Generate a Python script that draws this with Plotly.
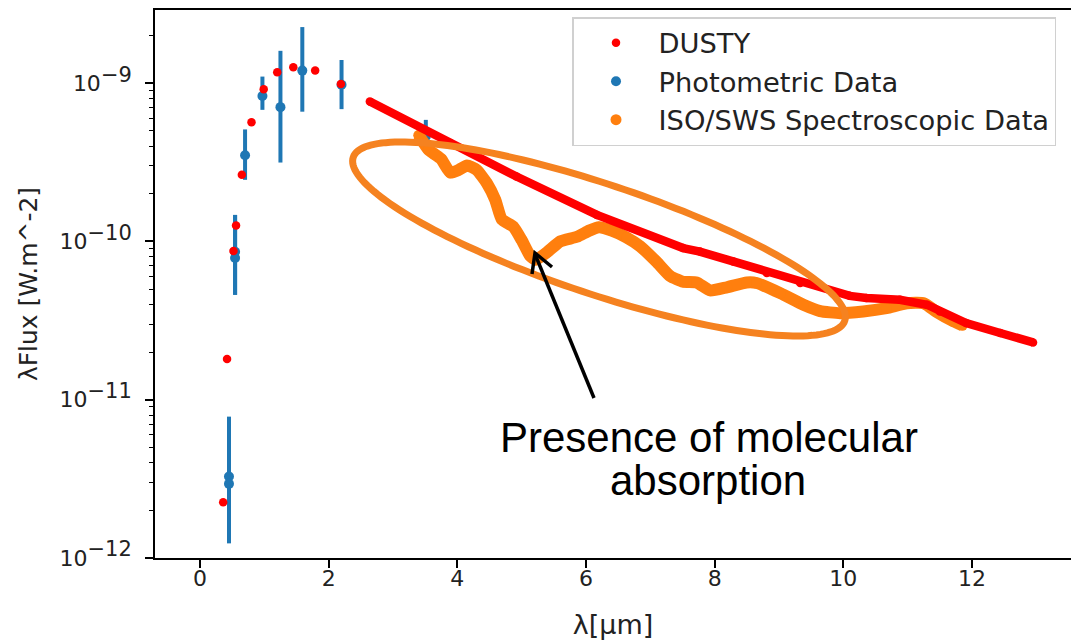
import numpy as np
import plotly.graph_objects as go

# ---------------- data ----------------
# DUSTY model: sparse optical/near-IR points
dusty_x = [0.36, 0.42, 0.52, 0.56, 0.65, 0.80, 0.99, 1.20, 1.45, 1.79, 2.19]
dusty_y = [2.25e-12, 1.81e-11, 8.7e-11, 1.26e-10, 2.64e-10, 5.67e-10, 9.16e-10,
           1.17e-9, 1.26e-9, 1.20e-9, 9.86e-10]
# DUSTY model: dense mid-IR part
dusty_ir_x = [2.64, 3.89, 4.92, 6.17, 7.51, 7.77, 8.29, 8.81, 9.33, 9.84, 10.10,
              10.36, 10.88, 11.30, 11.50, 11.91, 12.44, 12.95]
dusty_ir_y = [7.66e-10, 4.18e-10, 2.57e-10, 1.47e-10, 9.08e-11, 8.63e-11, 7.46e-11,
              6.31e-11, 5.46e-11, 4.83e-11, 4.53e-11, 4.39e-11, 4.28e-11, 3.98e-11,
              3.61e-11, 3.05e-11, 2.64e-11, 2.30e-11]

# Photometric data with asymmetric errors
phot_x = [0.45, 0.45, 0.545, 0.545, 0.70, 0.97, 1.25, 1.59, 2.20, 3.51]
phot_y = [3.27e-12, 2.94e-12, 8.6e-11, 7.85e-11, 3.5e-10, 8.3e-10, 7.05e-10,
          1.20e-9, 9.76e-10, 4.6e-10]
phot_err_plus = [4.53e-12, 4.86e-12, 6.1e-11, 6.85e-11, 1.6e-10, 2.7e-10, 8.95e-10,
                 1.06e-9, 4.24e-10, 1.26e-10]
phot_err_minus = [2.03e-12, 1.70e-12, 4.0e-11, 3.25e-11, 1.05e-10, 1.52e-10, 3.9e-10,
                  5.4e-10, 2.91e-10, 0.8e-10]

# ISO/SWS spectrum
iso_x = [3.40, 3.55, 3.65, 3.75, 3.89, 4.02, 4.15, 4.30, 4.46, 4.59, 4.69, 4.87,
         5.00, 5.13, 5.22, 5.39, 5.60, 5.86, 6.05, 6.20, 6.40, 6.63, 6.84, 7.10,
         7.31, 7.51, 7.72, 7.93, 8.19, 8.50, 8.65, 9.02, 9.38, 9.64, 9.95, 10.31,
         10.67, 10.99, 11.25, 11.45, 11.71, 11.85]
iso_y = [4.68e-10, 3.80e-10, 3.55e-10, 3.31e-10, 2.72e-10, 2.83e-10, 3.02e-10,
         2.83e-10, 2.33e-10, 1.83e-10, 1.38e-10, 1.24e-10, 1.02e-10, 8.13e-11,
         7.67e-11, 8.51e-11, 1.00e-10, 1.07e-10, 1.17e-10, 1.23e-10, 1.17e-10,
         1.06e-10, 9.33e-11, 7.41e-11, 6.03e-11, 5.56e-11, 5.50e-11, 4.90e-11,
         5.13e-11, 5.50e-11, 5.46e-11, 4.71e-11, 3.98e-11, 3.63e-11, 3.52e-11,
         3.61e-11, 3.79e-11, 4.07e-11, 4.07e-11, 3.59e-11, 3.13e-11, 2.95e-11]

x_ticks = [0, 2, 4, 6, 8, 10, 12]
y_ticks = [1e-12, 1e-11, 1e-10, 1e-9]
y_exponents = ["\u221212", "\u221211", "\u221210", "\u22129"]
y_ticktext = [f'10<sup><span style="font-size:21px">{e}</span></sup>' for e in y_exponents]

# ---------------- layout helpers ----------------
W, H = 1071, 640
L, R, T, B = 155, 1071, 10, 558


def pxx(p):
    return (p - L) / (R - L)


def pxy(p):
    return (B - p) / (B - T)


RED = "#ff0000"
BLUE = "#1f77b4"
ORANGE = "#ff7f0e"
ELL = "#f58220"

fig = go.Figure()

fig.add_trace(go.Scatter(
    x=phot_x, y=phot_y, mode="markers", name="Photometric Data",
    marker=dict(color=BLUE, size=10),
    error_y=dict(type="data", symmetric=False, array=phot_err_plus,
                 arrayminus=phot_err_minus, color=BLUE, thickness=4, width=0),
    legendrank=2,
))

fig.add_trace(go.Scatter(
    x=iso_x, y=iso_y, mode="lines", showlegend=False, hoverinfo="skip",
    line=dict(color=ORANGE, width=12, shape="spline", smoothing=0.5),
))
fig.add_trace(go.Scatter(
    x=iso_x, y=iso_y, mode="markers", name="ISO/SWS Spectroscopic Data",
    marker=dict(color=ORANGE, size=11),
    legendrank=3,
))

fig.add_trace(go.Scatter(
    x=dusty_ir_x, y=dusty_ir_y, mode="lines", showlegend=False, hoverinfo="skip",
    line=dict(color=RED, width=8.5),
))
fig.add_trace(go.Scatter(
    x=dusty_x + dusty_ir_x, y=dusty_y + dusty_ir_y, mode="markers", name="DUSTY",
    marker=dict(color=RED, size=8.5),
    legendrank=1,
))

# ---------------- annotation shapes ----------------
cx, cy, a, b, th = 599, 239, 259, 55, np.deg2rad(18.4)
phi = np.linspace(0, 2 * np.pi, 181)
ex = cx + a * np.cos(phi) * np.cos(th) - b * np.sin(phi) * np.sin(th)
ey = cy + a * np.cos(phi) * np.sin(th) + b * np.sin(phi) * np.cos(th)
path = "M " + " L ".join(f"{pxx(u):.5f},{pxy(v):.5f}" for u, v in zip(ex, ey)) + " Z"

shapes = [
    dict(type="path", xref="paper", yref="paper", path=path,
         line=dict(color=ELL, width=7), layer="above"),
    dict(type="line", xref="paper", yref="paper",
         x0=pxx(594), y0=pxy(398), x1=pxx(535), y1=pxy(254),
         line=dict(color="black", width=3.5), layer="above"),
    dict(type="path", xref="paper", yref="paper",
         path=f"M {pxx(532):.5f},{pxy(274):.5f} L {pxx(535):.5f},{pxy(253):.5f} L {pxx(552):.5f},{pxy(267):.5f}",
         line=dict(color="black", width=3.5), layer="above"),
]

annotations = [
    dict(text="Presence of molecular", x=pxx(709), y=pxy(437), xref="paper", yref="paper",
         showarrow=False, xanchor="center", yanchor="middle",
         font=dict(family="Liberation Sans", size=42, color="black")),
    dict(text="absorption", x=pxx(708), y=pxy(480), xref="paper", yref="paper",
         showarrow=False, xanchor="center", yanchor="middle",
         font=dict(family="Liberation Sans", size=42, color="black")),
]

AX_FONT = dict(family="DejaVu Sans", size=22, color="#222222")

fig.update_layout(
    width=W, height=H,
    margin=dict(l=L, r=W - R, t=T, b=H - B, autoexpand=False),
    paper_bgcolor="white", plot_bgcolor="white",
    shapes=shapes, annotations=annotations,
    showlegend=True,
    legend=dict(x=pxx(572), y=pxy(17), xanchor="left", yanchor="top",
                bgcolor="white", bordercolor="#d0d0d0", borderwidth=1.5,
                font=dict(family="DejaVu Sans", size=27.3, color="#222222"),
                itemwidth=75, traceorder="normal"),
    xaxis=dict(range=[-0.70, 13.54], tickvals=x_ticks, ticks="outside", ticklen=8,
               tickwidth=1.5, tickcolor="black", showline=True, linecolor="black",
               linewidth=1.5, mirror=True, showgrid=False, zeroline=False,
               automargin=False, tickfont=AX_FONT, ticklabelstandoff=-8,
               title=dict(text="\u03bb[\u03bcm]",
                          font=dict(family="DejaVu Sans", size=27, color="#222222"),
                          standoff=28)),
    yaxis=dict(type="log", range=[-12, -8.538], tickvals=y_ticks, ticktext=y_ticktext,
               ticks="outside", ticklen=8, tickwidth=1.5, tickcolor="black",
               showline=True, linecolor="black", linewidth=1.5, mirror=False,
               showgrid=False, zeroline=False, automargin=False, tickfont=AX_FONT,
               ticklabelstandoff=9,
               minor=dict(tickvals=[k * 10.0 ** e for e in range(-12, -8) for k in range(2, 10)],
                          ticks="outside", ticklen=4.5, tickwidth=1.2, tickcolor="black",
                          showgrid=False),
               title=dict(text="\u03bbFlux [W.m^-2]",
                          font=dict(family="DejaVu Sans", size=25, color="#222222"),
                          standoff=15)),
)

fig.write_html(
    "out.html",
    config={"displayModeBar": False},
    post_script="document.body.style.margin='0';document.body.style.overflow='hidden';",
)
